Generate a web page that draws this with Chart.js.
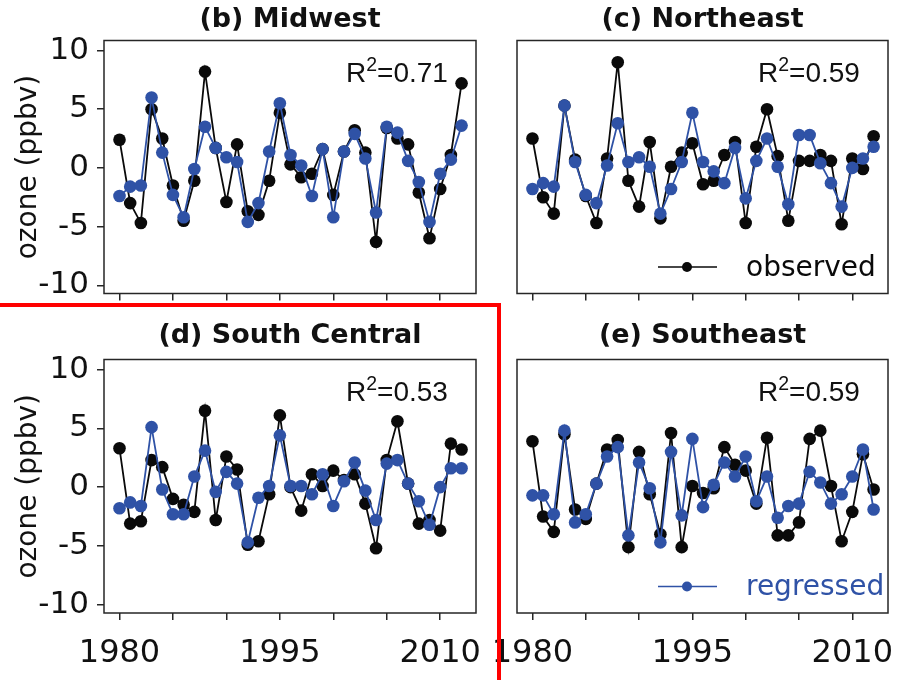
<!DOCTYPE html>
<html>
<head>
<meta charset="utf-8">
<title>Ozone anomalies by region</title>
<script src="https://cdn.jsdelivr.net/npm/chart.js@4.4.1/dist/chart.umd.min.js"></script>
<style>
  html, body { margin: 0; padding: 0; background: #fff; }
  #fig { position: relative; width: 898px; height: 680px; overflow: hidden; background: #fff; }
  #fig canvas { position: absolute; left: 0; top: 0; }
  /* red highlight box around panel (d) */
  #mark { position: absolute; left: -4px; top: 303px; width: 501px; height: 420px;
          border-top: 4px solid #f00; border-right: 4px solid #f00; }
</style>
</head>
<body>
<div id="fig">
  <canvas id="midwest" width="898" height="680"></canvas>
  <canvas id="northeast" width="898" height="680"></canvas>
  <canvas id="southcentral" width="898" height="680"></canvas>
  <canvas id="southeast" width="898" height="680"></canvas>
  <div id="mark"></div>
</div>
<script>
// ---- data -------------------------------------------------------------
const years = [1980, 1981, 1982, 1983, 1984, 1985, 1986, 1987, 1988, 1989,
               1990, 1991, 1992, 1993, 1994, 1995, 1996, 1997, 1998, 1999,
               2000, 2001, 2002, 2003, 2004, 2005, 2006, 2007, 2008, 2009,
               2010, 2011, 2012];

const xTickYears = [1980, 1985, 1990, 1995, 2000, 2005, 2010];
const xLabelYears = [1980, 1995, 2010];
const yTickValues = [-10, -5, 0, 5, 10];

const midwestObserved  = [2.4, -3.0, -4.7, 5.0, 2.5, -1.5, -4.5, -1.1, 8.2, 1.7, -2.9, 2.0, -3.7, -4.0, -1.1, 4.7, 0.3, -0.8, -0.5, 1.6, -2.3, 1.4, 3.2, 1.3, -6.3, 3.4, 2.5, 2.0, -2.1, -6.0, -1.8, 1.1, 7.2];
const midwestRegressed = [-2.4, -1.6, -1.5, 6.0, 1.3, -2.3, -4.2, -0.1, 3.5, 1.7, 0.9, 0.5, -4.6, -3.0, 1.4, 5.5, 1.1, 0.2, -2.4, 1.6, -4.2, 1.4, 2.9, 0.8, -3.8, 3.5, 3.0, 0.6, -1.2, -4.6, -0.5, 0.7, 3.6];

const northeastObserved  = [2.5, -2.5, -3.9, 5.3, 0.7, -2.4, -4.7, 0.8, 9.0, -1.1, -3.3, 2.2, -4.3, 0.1, 1.3, 2.1, -1.4, -1.1, 1.1, 2.2, -4.7, 1.8, 5.0, 1.0, -4.5, 0.6, 0.6, 1.1, 0.6, -4.8, 0.8, -0.1, 2.7];
const northeastRegressed = [-1.8, -1.3, -1.6, 5.3, 0.5, -2.3, -3.0, 0.2, 3.8, 0.5, 0.9, 0.1, -3.9, -1.8, 0.5, 4.7, 0.5, -0.3, -1.3, 1.7, -2.6, 0.6, 2.5, 0.1, -3.1, 2.8, 2.8, 0.4, -1.3, -3.3, 0.0, 0.8, 1.8];

const southCentralObserved  = [3.3, -3.1, -2.9, 2.3, 1.7, -1.0, -1.5, -2.1, 6.5, -2.8, 2.6, 1.5, -4.9, -4.6, -0.6, 6.1, 0.0, -2.0, 1.1, 0.1, 1.4, 0.6, 1.1, -1.4, -5.2, 2.3, 5.6, 0.3, -3.1, -2.8, -3.7, 3.7, 3.2];
const southCentralRegressed = [-1.8, -1.3, -1.6, 5.1, -0.2, -2.3, -2.3, 0.9, 3.1, -0.4, 1.3, 0.3, -4.7, -0.9, 0.1, 4.4, 0.1, 0.1, -0.6, 1.1, -1.6, 0.5, 2.1, -0.3, -2.8, 2.0, 2.3, 0.3, -1.2, -3.2, 0.0, 1.6, 1.6];

const southeastObserved  = [3.9, -2.5, -3.8, 4.5, -1.9, -2.7, 0.3, 3.2, 4.0, -5.1, 3.0, -0.6, -4.0, 4.6, -5.1, 0.1, -0.5, -0.1, 3.4, 1.9, 1.4, -1.4, 4.2, -4.1, -4.1, -3.0, 4.1, 4.8, 0.1, -4.6, -2.1, 2.8, -0.2];
const southeastRegressed = [-0.7, -0.7, -2.3, 4.8, -3.0, -2.3, 0.3, 2.6, 3.4, -4.1, 2.1, -0.1, -4.7, 3.0, -2.4, 4.1, -1.7, 0.2, 2.1, 0.9, 2.6, -1.2, 0.9, -2.6, -1.6, -1.4, 1.3, 0.4, -1.4, -0.6, 0.9, 3.2, -1.9];

const panelTitles = ['(b) Midwest', '(c) Northeast', '(d) South Central', '(e) Southeast'];
const r2Labels = ['0.71', '0.59', '0.53', '0.59'];
const seriesNames = ['observed', 'regressed'];

// ---- styling ----------------------------------------------------------
const OBS_COLOR = '#0a0a0a';
const REG_COLOR = '#2f52a6';
const AXIS_COLOR = '#262626';
const TEXT_COLOR = '#111111';
const FONT = '"DejaVu Sans", "Liberation Sans", sans-serif';

Chart.defaults.font.family = FONT;
Chart.defaults.color = TEXT_COLOR;

// frame, R² annotation and inline legend entry
const panelDecor = {
  id: 'panelDecor',
  afterDraw(chart, args, opts) {
    const { ctx, chartArea: a } = chart;
    ctx.save();
    ctx.strokeStyle = AXIS_COLOR;
    ctx.lineWidth = 1.5;
    ctx.strokeRect(a.left, a.top, a.right - a.left, a.bottom - a.top);

    // R² label
    ctx.fillStyle = TEXT_COLOR;
    ctx.textAlign = 'left';
    ctx.textBaseline = 'alphabetic';
    let x = a.right - 130;
    const y = a.top + 41.5;
    ctx.font = '28px "Liberation Sans", Arial, sans-serif';
    ctx.fillText('R', x, y);
    x += ctx.measureText('R').width;
    ctx.font = '19.5px "Liberation Sans", Arial, sans-serif';
    ctx.fillText('2', x, y - 11);
    x += ctx.measureText('2').width;
    ctx.font = '28px "Liberation Sans", Arial, sans-serif';
    ctx.fillText('=' + opts.r2, x, y);

    if (opts.legendIndex !== undefined) {
      const ds = chart.data.datasets[opts.legendIndex];
      const ly = a.bottom - 26.5;
      ctx.strokeStyle = ds.borderColor;
      ctx.lineWidth = 1.5;
      ctx.beginPath();
      ctx.moveTo(a.right - 230, ly);
      ctx.lineTo(a.right - 171, ly);
      ctx.stroke();
      ctx.fillStyle = ds.backgroundColor;
      ctx.beginPath();
      ctx.arc(a.right - 201, ly, 5, 0, Math.PI * 2);
      ctx.fill();
      ctx.font = '28px ' + FONT;
      ctx.fillStyle = ds.borderColor;
      ctx.fillText(ds.label, a.right - 142, a.bottom - 18);
    }
    ctx.restore();
  }
};

function toPoints(values) {
  return years.map((yr, i) => ({ x: yr, y: values[i] }));
}

function makePanel(canvasId, idx, observed, regressed, place) {
  const isLeft = place.col === 0;
  const isBottom = place.row === 1;
  const titlePad = isBottom ? { top: 4, bottom: 10 } : { top: 6, bottom: 7.5 };
  const legendIndex = place.legend === 'observed' ? 1 : (place.legend === 'regressed' ? 0 : undefined);

  return new Chart(document.getElementById(canvasId), {
    type: 'line',
    data: {
      datasets: [
        {
          label: seriesNames[1],
          data: toPoints(regressed),
          borderColor: REG_COLOR,
          backgroundColor: REG_COLOR,
          borderWidth: 1.8,
          pointRadius: 6.3,
          pointBorderWidth: 0,
          pointHoverRadius: 6.3,
          tension: 0,
          order: 0
        },
        {
          label: seriesNames[0],
          data: toPoints(observed),
          borderColor: OBS_COLOR,
          backgroundColor: OBS_COLOR,
          borderWidth: 1.8,
          pointRadius: 6.3,
          pointBorderWidth: 0,
          pointHoverRadius: 6.3,
          tension: 0,
          order: 1
        }
      ]
    },
    options: {
      responsive: false,
      animation: false,
      devicePixelRatio: 1,
      events: [],
      layout: { padding: place.padding },
      plugins: {
        legend: { display: false },
        tooltip: { enabled: false },
        title: {
          display: true,
          text: panelTitles[idx],
          fullSize: false,
          color: TEXT_COLOR,
          font: { size: 27, weight: 'bold', lineHeight: 1 },
          padding: titlePad
        },
        panelDecor: { r2: r2Labels[idx], legendIndex }
      },
      scales: {
        x: {
          type: 'linear',
          min: 1978.55,
          max: 2013.35,
          border: { display: false },
          grid: { drawOnChartArea: false, drawTicks: true, tickLength: 7, color: AXIS_COLOR, lineWidth: 1.5 },
          afterBuildTicks: (s) => { s.ticks = xTickYears.map(v => ({ value: v })); },
          afterFit: (s) => {
            s.height = isBottom ? 60 : 10;
            // end labels may spill into the page margin
            s.paddingLeft = 0;
            s.paddingRight = 0;
          },
          ticks: {
            autoSkip: false,
            maxRotation: 0,
            padding: 14,
            color: TEXT_COLOR,
            font: { size: 32, lineHeight: 1.2 },
            callback: (v) => (isBottom && xLabelYears.includes(v)) ? String(v) : ''
          }
        },
        y: {
          display: isLeft,
          min: -10.7,
          max: 10.85,
          border: { display: false },
          grid: { drawOnChartArea: false, drawTicks: true, tickLength: 7, color: AXIS_COLOR, lineWidth: 1.5 },
          afterBuildTicks: (s) => { s.ticks = yTickValues.map(v => ({ value: v })); },
          afterFit: (s) => { s.width = isLeft ? 104 : 0; },
          ticks: {
            padding: 8,
            color: TEXT_COLOR,
            font: { size: 31, lineHeight: 1.2 },
            callback: (v) => String(v)
          },
          title: {
            display: true,
            text: 'ozone (ppbv)',
            color: TEXT_COLOR,
            font: { size: 28, lineHeight: 1.2 },
            padding: { top: 12, bottom: 0 }
          }
        }
      }
    },
    plugins: [panelDecor]
  });
}

makePanel('midwest', 0, midwestObserved, midwestRegressed,
  { row: 0, col: 0, padding: { left: 0, top: 0, right: 422, bottom: 376.5 } });
makePanel('northeast', 1, northeastObserved, northeastRegressed,
  { row: 0, col: 1, legend: 'observed', padding: { left: 517, top: 0, right: 10, bottom: 376.5 } });
makePanel('southcentral', 2, southCentralObserved, southCentralRegressed,
  { row: 1, col: 0, padding: { left: 0, top: 318.5, right: 422, bottom: 7 } });
makePanel('southeast', 3, southeastObserved, southeastRegressed,
  { row: 1, col: 1, legend: 'regressed', padding: { left: 517, top: 318.5, right: 10, bottom: 7 } });
</script>
</body>
</html>
